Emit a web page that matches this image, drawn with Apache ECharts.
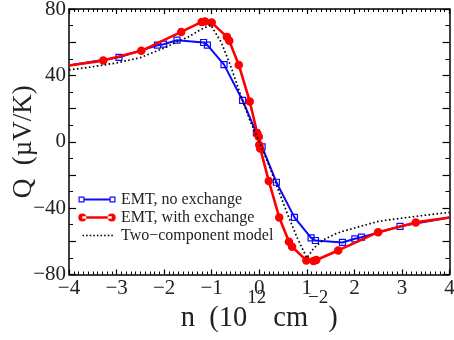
<!DOCTYPE html>
<html>
<head>
<meta charset="utf-8">
<script src="https://cdn.jsdelivr.net/npm/echarts@6/dist/echarts.min.js"></script>
<style>
  html, body { margin: 0; padding: 0; background: #fff; }
  #chart { width: 454px; height: 340px; }
</style>
</head>
<body>
<div id="chart"></div>
<script>
// EMT, no exchange (blue squares)
const noExX = [-4, -2.95, -2.14, -2.01, -1.73, -1.17, -1.09, -0.74, -0.35, -0.06, 0.06, 0.36, 0.74, 1.09, 1.18, 1.75, 2.01, 2.15, 2.96, 4];
const noExY = [46, 50.9, 58.2, 58.8, 61.2, 59.8, 58.2, 46.5, 24.9, 5.3, -3.1, -24.4, -45.6, -57.9, -59.5, -60.7, -58.5, -57.5, -51.0, -45.6];

// EMT, with exchange (red dots)
const withExX = [-4, -3.28, -2.48, -1.64, -1.21, -1.14, -1.0, -0.68, -0.63, -0.43, -0.20, -0.04, -0.01, 0.0, 0.02, 0.20, 0.42, 0.625, 0.69, 0.99, 1.14, 1.2, 1.66, 2.5, 3.29, 4];
const withExY = [46, 48.9, 54.8, 66.2, 72.2, 72.4, 71.8, 63.2, 60.8, 46.3, 24.3, 5.0, 3.0, -2, -4, -23.6, -45.6, -60.3, -63.3, -71.5, -71.9, -71.3, -65.5, -54.5, -48.6, -45.6];

// Two-component model (dotted)
const twoCompX = [-4, -3.5, -3, -2.5, -2, -1.75, -1.5, -1.25, -1.02, -0.8, -0.6, -0.4, -0.2, 0, 0.2, 0.4, 0.6, 0.8, 1.0, 1.15, 1.36, 1.6, 1.75, 2, 2.5, 3, 3.5, 4];
const twoCompY = [43.3, 45.2, 47.5, 50.7, 56.5, 60, 63, 67.3, 70.4, 60, 45.5, 28.9, 13, 0, -14, -29, -44, -58, -70, -64, -59, -55.5, -54, -52, -48, -46, -44.2, -42.6];

const xTicks = { min: -4, max: 4, step: 1 };
const yTicks = { min: -80, max: 80, step: 20, labelStep: 40 };

const BLUE = '#0a0aff';
const RED = '#ff0000';
const SERIF = 'Liberation Serif';
const minus = v => String(v).replace('-', '\u2212');

function pairs(xs, ys, edgeless) {
  return xs.map((x, i) => {
    const item = { value: [x, ys[i]] };
    if (edgeless && (i === 0 || i === xs.length - 1)) item.symbol = 'none';
    return item;
  });
}

// legend icons, drawn in a 38x10 box
function rectPath(x0, y0, x1, y1) {
  return `M${x0} ${y0}L${x1} ${y0}L${x1} ${y1}L${x0} ${y1}Z`;
}
function holePath(x0, y0, x1, y1) {
  return `M${x0} ${y0}L${x0} ${y1}L${x1} ${y1}L${x1} ${y0}Z`;
}
function circlePath(cx, cy, r) {
  return `M${cx - r} ${cy}A${r} ${r} 0 1 0 ${cx + r} ${cy}A${r} ${r} 0 1 0 ${cx - r} ${cy}Z`;
}
const frame = 'M0 0Z M38 10Z ';
const blueIcon = 'path://' + frame +
  rectPath(0.5, 2, 6.5, 8) + holePath(1.7, 3.2, 5.3, 6.8) +
  rectPath(6.5, 4.1, 31.5, 5.9) +
  rectPath(31.5, 2, 37.5, 8) + holePath(32.7, 3.2, 36.3, 6.8);
const redIcon = 'path://' + frame +
  circlePath(4.3, 5, 4) + rectPath(4.3, 3.8, 33.7, 6.2) + circlePath(33.7, 5, 4);
let dots = '';
for (let x = 4.5; x < 34; x += 3.6) dots += rectPath(x, 4.2, x + 1.6, 5.8);
const dotIcon = 'path://' + frame + dots;

const axisLine = { show: true, onZero: false, lineStyle: { color: '#000', width: 1.5 } };
const labelStyle = { color: '#222', fontFamily: SERIF, fontSize: 21 };

const chart = echarts.init(document.getElementById('chart'), null, { renderer: 'canvas' });
chart.setOption({
  animation: false,
  backgroundColor: '#fff',
  textStyle: { fontFamily: SERIF },
  grid: { left: 69, right: 4.5, top: 9, bottom: 65.5, containLabel: false, outerBoundsMode: 'none' },
  legend: {
    orient: 'vertical',
    left: 78,
    top: 190.5,
    padding: 0,
    itemGap: 0,
    itemWidth: 38,
    itemHeight: 10,
    textStyle: { color: '#222', fontFamily: SERIF, fontSize: 16, lineHeight: 18 },
    data: [
      { name: 'EMT, no exchange', icon: blueIcon, itemStyle: { color: BLUE, borderWidth: 0 } },
      { name: 'EMT, with exchange', icon: redIcon, itemStyle: { color: RED, borderWidth: 0 } },
      { name: 'Two\u2212component model', icon: dotIcon, itemStyle: { color: '#000', borderWidth: 0 } }
    ]
  },
  xAxis: [
    {
      type: 'value',
      position: 'bottom',
      min: xTicks.min, max: xTicks.max, interval: xTicks.step,
      axisLine,
      axisTick: { inside: true, length: 5, lineStyle: { color: '#000', width: 1.2 } },
      minorTick: { show: true, splitNumber: 10, length: 3, lineStyle: { color: '#000', width: 1 } },
      splitLine: { show: false },
      axisLabel: Object.assign({ margin: 3, formatter: minus }, labelStyle),
      name: '{m|n  (10}{s|12}{m| cm}{s|\u22122}{m|)}',
      nameLocation: 'middle',
      nameGap: 14.5,
      nameMoveOverlap: false,
      nameTextStyle: {
        color: '#222', fontFamily: SERIF,
        rich: {
          m: { fontFamily: SERIF, fontSize: 28.5, color: '#222', lineHeight: 60 },
          s: { fontFamily: SERIF, fontSize: 19, color: '#222', lineHeight: 22, verticalAlign: 'top' }
        }
      }
    },
    {
      type: 'value',
      position: 'top',
      min: xTicks.min, max: xTicks.max, interval: xTicks.step,
      axisLine,
      axisTick: { inside: true, length: 5, lineStyle: { color: '#000', width: 1.2 } },
      minorTick: { show: true, splitNumber: 10, length: 3, lineStyle: { color: '#000', width: 1 } },
      splitLine: { show: false },
      axisLabel: { show: false }
    }
  ],
  yAxis: [
    {
      type: 'value',
      position: 'left',
      min: yTicks.min, max: yTicks.max, interval: yTicks.step,
      axisLine,
      axisTick: { inside: true, length: 7, lineStyle: { color: '#000', width: 1.2 } },
      minorTick: { show: true, splitNumber: 2, length: 4, lineStyle: { color: '#000', width: 1 } },
      splitLine: { show: false },
      axisLabel: Object.assign({
        margin: 3,
        formatter: v => (v % yTicks.labelStep === 0 ? minus(v) : '')
      }, labelStyle),
      name: 'Q  (\u00b5V/K)',
      nameLocation: 'middle',
      nameGap: 32,
      nameMoveOverlap: false,
      nameTextStyle: { color: '#222', fontFamily: SERIF, fontSize: 27 }
    },
    {
      type: 'value',
      position: 'right',
      min: yTicks.min, max: yTicks.max, interval: yTicks.step,
      axisLine,
      axisTick: { inside: true, length: 7, lineStyle: { color: '#000', width: 1.2 } },
      minorTick: { show: true, splitNumber: 2, length: 4, lineStyle: { color: '#000', width: 1 } },
      splitLine: { show: false },
      axisLabel: { show: false }
    }
  ],
  series: [
    {
      name: 'EMT, no exchange',
      type: 'line',
      data: pairs(noExX, noExY, true),
      symbol: 'rect',
      symbolSize: 6,
      itemStyle: { color: 'rgba(255,255,255,0)', borderColor: BLUE, borderWidth: 1.2 },
      lineStyle: { color: BLUE, width: 2 },
      z: 2
    },
    {
      name: 'EMT, with exchange',
      type: 'line',
      data: pairs(withExX, withExY, true),
      symbol: 'circle',
      symbolSize: 8.5,
      itemStyle: { color: RED },
      lineStyle: { color: RED, width: 2.6 },
      z: 3
    },
    {
      name: 'Two\u2212component model',
      type: 'line',
      data: pairs(twoCompX, twoCompY, false),
      symbol: 'none',
      lineStyle: { color: '#000', width: 1.7, type: [1.6, 2.4] },
      z: 4
    }
  ]
});
</script>
</body>
</html>
